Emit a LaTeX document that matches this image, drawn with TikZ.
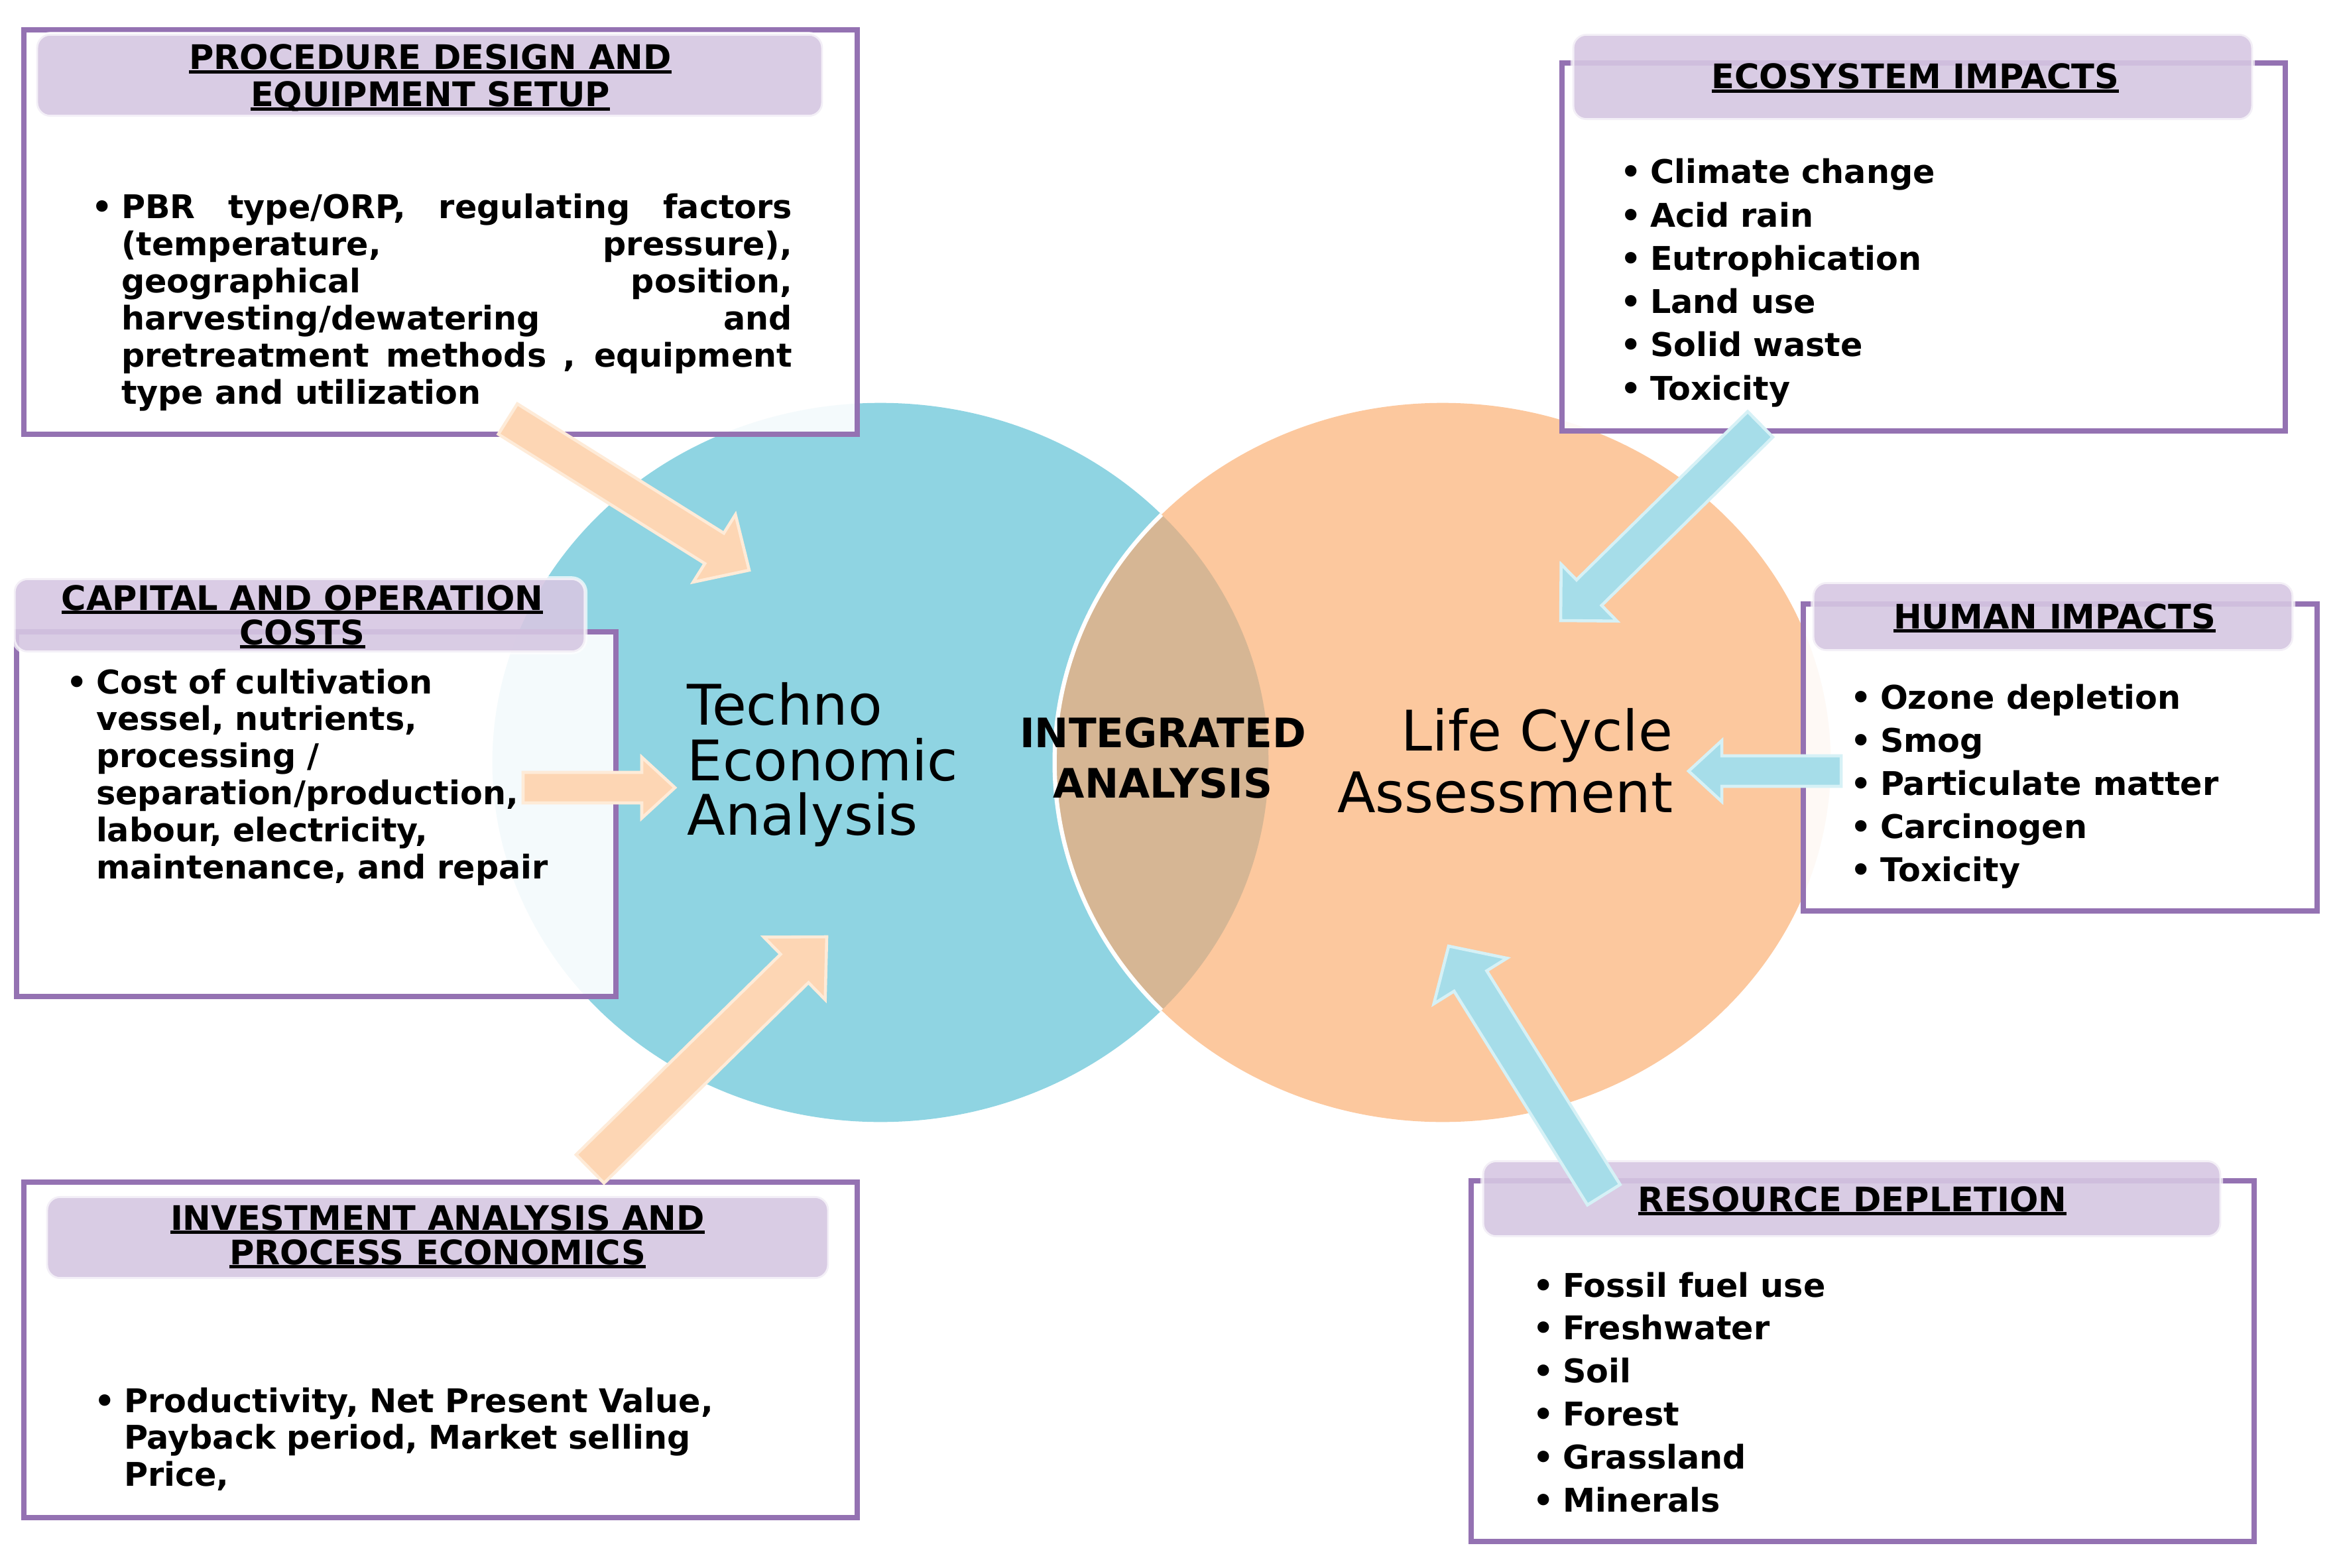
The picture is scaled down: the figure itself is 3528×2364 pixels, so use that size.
\documentclass[tikz,border=0pt]{standalone}
\usepackage{fontspec}
\setmainfont{DejaVu Sans}
\usetikzlibrary{calc}

\definecolor{tealblue}{RGB}{143,212,226}
\definecolor{peach}{RGB}{252,200,158}
\definecolor{lensbrown}{RGB}{214,182,148}
\definecolor{framepurple}{RGB}{148,114,178}
\definecolor{headlilac}{RGB}{214,199,226}
\definecolor{arrowpeach}{RGB}{253,214,180}
\definecolor{arrowpeachedge}{RGB}{254,235,216}
\definecolor{arrowblue}{RGB}{166,221,233}
\definecolor{arrowblueedge}{RGB}{214,241,246}

\tikzset{
  panel/.style={
    draw=framepurple,
    line width=2.3pt,
    fill=white,
    fill opacity=0.9,
  },
  header/.style={
    fill=headlilac,
    fill opacity=0.9,
    draw=white,
    draw opacity=0.7,
    line width=1.6pt,
    rounded corners=6pt,
  },
  headtext/.style={
    font=\bfseries\fontsize{14.5}{16}\selectfont,
    inner sep=0pt,
    anchor=base,
  },
  bodytext/.style={
    font=\bfseries\fontsize{14}{15.9}\selectfont,
    inner sep=0pt,
    anchor=base west,
    align=left,
  },
  listitem/.style={
    font=\bfseries\fontsize{14}{16}\selectfont,
    inner sep=0pt,
    anchor=base west,
  },
  bigtext/.style={
    font=\fontsize{24}{24}\selectfont,
    inner sep=0pt,
  },
  midtext/.style={
    font=\bfseries\fontsize{17.4}{20}\selectfont,
    inner sep=0pt,
    anchor=base,
  },
  orarrow/.style={
    fill=arrowpeach,
    draw=arrowpeachedge,
    line width=1.3pt,
  },
  blarrow/.style={
    fill=arrowblue,
    draw=arrowblueedge,
    line width=1.3pt,
  },
}

\newcommand{\bulbox}{\makebox[11.2pt][l]{\kern-1.6pt\textbullet}}
\newcommand{\bulhang}{\hangindent=11.2pt\hangafter=1\bulbox}
\newcommand{\hdunder}[1]{\setbox0\hbox{#1}\rlap{\copy0}\rule[-1.8pt]{\wd0}{1.4pt}}
% fat arrow: style, tail, tip, half shaft, half head, head length
\newcommand{\blockarrow}[6]{%
  \coordinate (#3-neck) at ($(#3)!#6!(#2)$);
  \draw[#1] ($(#2)!#4!90:(#3)$) -- ($(#3-neck)!#4!90:(#3)$)
    -- ($(#3-neck)!#5!90:(#3)$) -- (#3)
    -- ($(#3-neck)!#5!-90:(#3)$) -- ($(#3-neck)!#4!-90:(#3)$)
    -- ($(#2)!#4!-90:(#3)$) -- cycle;
}

\begin{document}
\begin{tikzpicture}[x=0.01cm, y=-0.01cm]
  \useasboundingbox (0,0) rectangle (3528,2364);

  % the two circles and their overlap
  \fill[tealblue] (1328,1150) ellipse [x radius=5.85cm, y radius=5.42cm];
  \fill[peach] (2176,1150) ellipse [x radius=5.85cm, y radius=5.42cm];
  \begin{scope}
    \clip (1328,1150) ellipse [x radius=5.85cm, y radius=5.42cm];
    \fill[lensbrown, draw=white, line width=1.8pt] (2176,1150) ellipse [x radius=5.85cm, y radius=5.42cm];
  \end{scope}

  % panels
  \node[panel, minimum width=12.57cm, minimum height=6.10cm] (pdbox) at (664.5,350) {};
  \node[panel, minimum width=9.04cm, minimum height=5.50cm] (ccbox) at (477,1228) {};
  \node[panel, minimum width=12.57cm, minimum height=5.06cm] (iabox) at (664.5,2036) {};
  \node[panel, minimum width=10.91cm, minimum height=5.55cm] (ecobox) at (2901.5,372.5) {};
  \node[panel, minimum width=7.75cm, minimum height=4.63cm] (humbox) at (3107.5,1142.5) {};
  \node[panel, minimum width=11.81cm, minimum height=5.44cm] (resbox) at (2809.5,2053) {};

  % headers
  \node[header, minimum width=11.86cm, minimum height=1.25cm] (pdhead) at (648,113.5) {};
  \node[header, minimum width=8.62cm, minimum height=1.12cm] (cchead) at (452,928) {};
  \node[header, minimum width=11.80cm, minimum height=1.25cm] (iahead) at (660,1866.5) {};
  \node[header, minimum width=10.26cm, minimum height=1.30cm] (ecohead) at (2885,116) {};
  \node[header, minimum width=7.25cm, minimum height=1.04cm] (humhead) at (3096.5,930) {};
  \node[header, minimum width=11.14cm, minimum height=1.16cm] (reshead) at (2793,1808) {};

  % arrows into the circles
  \coordinate (a1s) at (766,632);   \coordinate (a1e) at (1130,860);
  \coordinate (a2s) at (789,1188);  \coordinate (a2e) at (1018,1188);
  \coordinate (a3s) at (890,1763);  \coordinate (a3e) at (1247,1413);
  \coordinate (a4s) at (2655,640);  \coordinate (a4e) at (2354,936);
  \coordinate (a5s) at (2777,1163); \coordinate (a5e) at (2547,1163);
  \coordinate (a6s) at (2419,1802); \coordinate (a6e) at (2185,1427);
  \blockarrow{orarrow}{a1s}{a1e}{0.27cm}{0.60cm}{0.62cm}
  \blockarrow{orarrow}{a2s}{a2e}{0.23cm}{0.46cm}{0.50cm}
  \blockarrow{orarrow}{a3s}{a3e}{0.30cm}{0.66cm}{0.68cm}
  \blockarrow{blarrow}{a4s}{a4e}{0.27cm}{0.60cm}{0.60cm}
  \blockarrow{blarrow}{a5s}{a5e}{0.23cm}{0.46cm}{0.50cm}
  \blockarrow{blarrow}{a6s}{a6e}{0.29cm}{0.65cm}{0.62cm}

  % header titles
  \node[headtext] (pdt1) at (649,105) {\hdunder{PROCEDURE DESIGN AND}};
  \node[headtext] (pdt2) at (649,161) {\hdunder{EQUIPMENT SETUP}};
  \node[headtext] (cct1) at (456,920) {\hdunder{CAPITAL AND OPERATION}};
  \node[headtext] (cct2) at (456,972) {\hdunder{COSTS}};
  \node[headtext] (iat1) at (660,1855) {\hdunder{INVESTMENT ANALYSIS AND}};
  \node[headtext] (iat2) at (660,1907) {\hdunder{PROCESS ECONOMICS}};
  \node[headtext] (ecot) at (2889,134) {\hdunder{ECOSYSTEM IMPACTS}};
  \node[headtext] (humt) at (3099,948) {\hdunder{HUMAN IMPACTS}};
  \node[headtext] (rest) at (2794,1827) {\hdunder{RESOURCE DEPLETION}};

  % panel texts
  \node[bodytext, text width=299pt, align=justify] (pdtext) at (143,330)
    {\bulhang PBR type/ORP, regulating factors\linebreak (temperature, pressure),\linebreak
     geographical position,\linebreak harvesting/dewatering and\linebreak
     pretreatment methods , equipment\linebreak type and utilization\par};
  \node[bodytext, text width=230pt] (cctext) at (105,1046)
    {\bulhang Cost of cultivation\newline vessel, nutrients,\newline processing /\newline
     separation/production,\newline labour, electricity,\newline maintenance, and repair\par};
  \node[bodytext, text width=290pt] (iatext) at (147,2130)
    {\bulhang Productivity, Net Present Value,\newline Payback period, Market selling\newline Price,\par};

  \foreach \txt [count=\i] in {Climate change, Acid rain, Eutrophication, Land use, Solid waste, Toxicity}
    \node[listitem] (eco\i) at (2449, {277+65.2*(\i-1)}) {\bulbox\txt};
  \foreach \txt [count=\i] in {Ozone depletion, Smog, Particulate matter, Carcinogen, Toxicity}
    \node[listitem] (hum\i) at (2796, {1069+65*(\i-1)}) {\bulbox\txt};
  \foreach \txt [count=\i] in {Fossil fuel use, Freshwater, Soil, Forest, Grassland, Minerals}
    \node[listitem] (res\i) at (2317, {1956+64.8*(\i-1)}) {\bulbox\txt};

  % circle texts
  \node[bigtext, anchor=base west] (tea1) at (1036,1093) {Techno};
  \node[bigtext, anchor=base west] (tea2) at (1036,1177) {Economic};
  \node[bigtext, anchor=base west] (tea3) at (1036,1259) {Analysis};
  \node[bigtext, anchor=base east] (lca1) at (2524,1132) {Life Cycle};
  \node[bigtext, anchor=base east] (lca2) at (2524,1225) {Assessment};
  \node[midtext] (ia1) at (1754,1127) {INTEGRATED};
  \node[midtext] (ia2) at (1754,1203) {ANALYSIS};
\end{tikzpicture}
\end{document}
